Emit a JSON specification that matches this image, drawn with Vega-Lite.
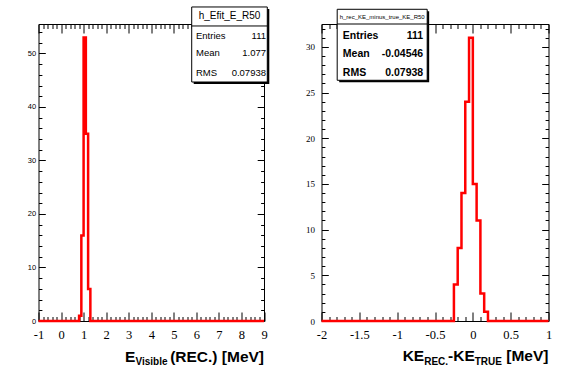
{
  "$schema": "https://vega.github.io/schema/vega-lite/v6.json",
  "background": "white",
  "padding": {"left": 26.5, "top": 5, "right": 5, "bottom": 5},
  "bounds": "flush",
  "spacing": 57,
  "config": {
    "view": {"stroke": "black", "strokeWidth": 1},
    "text": {"font": "Liberation Sans", "color": "black"}
  },
  "datasets": {
    "histL": [
      {"x": -1, "count": 0}, {"x": 0.8, "count": 1}, {"x": 0.9, "count": 16},
      {"x": 1.0, "count": 53}, {"x": 1.1, "count": 35}, {"x": 1.2, "count": 6},
      {"x": 1.3, "count": 0}, {"x": 9, "count": 0}
    ],
    "histR": [
      {"x": -2, "count": 0}, {"x": -0.25, "count": 4}, {"x": -0.2, "count": 8},
      {"x": -0.15, "count": 14}, {"x": -0.1, "count": 24}, {"x": -0.05, "count": 31},
      {"x": 0, "count": 15}, {"x": 0.05, "count": 11}, {"x": 0.1, "count": 3},
      {"x": 0.15, "count": 1}, {"x": 0.2, "count": 0}, {"x": 1, "count": 0}
    ],
    "statsL": [
      {"name": "Entries", "value": "111"},
      {"name": "Mean", "value": "1.077"},
      {"name": "RMS", "value": "0.07938"}
    ],
    "statsR": [
      {"name": "Entries", "value": "111"},
      {"name": "Mean", "value": "-0.04546"},
      {"name": "RMS", "value": "0.07938"}
    ]
  },
  "hconcat": [
    {
      "width": 225.5,
      "height": 297,
      "resolve": {"axis": {"x": "independent", "y": "independent"}},
      "layer": [
        {
          "data": {"name": "histL"},
          "mark": {"type": "line", "interpolate": "step-after", "color": "#ff0000", "strokeWidth": 2.5, "strokeJoin": "miter", "clip": false},
          "encoding": {
            "x": {"field": "x", "type": "quantitative", "scale": {"domain": [-1, 9], "nice": false, "zero": false},
              "axis": {"orient": "bottom", "title": null, "domain": false, "grid": false,
                "values": [-1,-0.8,-0.6,-0.4,-0.2,0,0.2,0.4,0.6,0.8,1,1.2,1.4,1.6,1.8,2,2.2,2.4,2.6,2.8,3,3.2,3.4,3.6,3.8,4,4.2,4.4,4.6,4.8,5,5.2,5.4,5.6,5.8,6,6.2,6.4,6.6,6.8,7,7.2,7.4,7.6,7.8,8,8.2,8.4,8.6,8.8,9],
                "tickColor": "black", "tickWidth": 1,
                "tickSize": {"condition": {"test": "abs(datum.value - round(datum.value)) < 0.001", "value": -9}, "value": -4.5},
                "labelExpr": "abs(datum.value - round(datum.value)) < 0.001 ? (datum.value < 0 ? '-' : '') + format(abs(datum.value), 'd') : ''",
                "labelFont": "Liberation Serif", "labelFontSize": 12.5, "labelColor": "black",
                "labelPadding": 16.5, "labelFlush": false, "labelOverlap": false}},
            "y": {"field": "count", "type": "quantitative", "scale": {"domain": [0, 55.5], "nice": false, "zero": false},
              "axis": {"orient": "left", "title": null, "domain": false, "grid": false,
                "values": [0,2,4,6,8,10,12,14,16,18,20,22,24,26,28,30,32,34,36,38,40,42,44,46,48,50,52,54],
                "tickColor": "black", "tickWidth": 1,
                "tickSize": {"condition": {"test": "datum.value % 10 === 0", "value": -6.8}, "value": -3.4},
                "labelExpr": "datum.value % 10 === 0 ? format(datum.value, 'd') : ''",
                "labelFont": "Liberation Sans", "labelFontSize": 7.5, "labelColor": "black",
                "labelPadding": 9.6, "labelFlush": false, "labelOverlap": false}}
          }
        },
        {
          "data": {"name": "histL"},
          "mark": {"type": "line", "interpolate": "step-after", "opacity": 0},
          "encoding": {
            "x": {"field": "x", "type": "quantitative", "scale": {"domain": [-1, 9], "nice": false, "zero": false},
              "axis": {"orient": "top", "title": null, "domain": false, "grid": false, "labels": false,
                "values": [-1,-0.8,-0.6,-0.4,-0.2,0,0.2,0.4,0.6,0.8,1,1.2,1.4,1.6,1.8,2,2.2,2.4,2.6,2.8,3,3.2,3.4,3.6,3.8,4,4.2,4.4,4.6,4.8,5,5.2,5.4,5.6,5.8,6,6.2,6.4,6.6,6.8,7,7.2,7.4,7.6,7.8,8,8.2,8.4,8.6,8.8,9],
                "tickColor": "black", "tickWidth": 1,
                "tickSize": {"condition": {"test": "abs(datum.value - round(datum.value)) < 0.001", "value": -9}, "value": -4.5}}},
            "y": {"field": "count", "type": "quantitative", "scale": {"domain": [0, 55.5], "nice": false, "zero": false},
              "axis": {"orient": "right", "title": null, "domain": false, "grid": false, "labels": false,
                "values": [0,2,4,6,8,10,12,14,16,18,20,22,24,26,28,30,32,34,36,38,40,42,44,46,48,50,52,54],
                "tickColor": "black", "tickWidth": 1,
                "tickSize": {"condition": {"test": "datum.value % 10 === 0", "value": -6.8}, "value": -3.4}}}
          }
        },
        {
          "data": {"values": [{}]},
          "mark": {"type": "rect", "color": "black", "clip": false},
          "encoding": {
            "x": {"datum": 5.883, "type": "quantitative", "axis": null},
            "x2": {"datum": 9.235},
            "y": {"datum": 58.31, "type": "quantitative", "axis": null},
            "y2": {"datum": 44.29}
          }
        },
        {
          "data": {"values": [{}]},
          "mark": {"type": "rect", "fill": "white", "stroke": "black", "strokeWidth": 1, "clip": false},
          "encoding": {
            "x": {"datum": 5.794, "type": "quantitative", "axis": null},
            "x2": {"datum": 9.146},
            "y": {"datum": 58.68, "type": "quantitative", "axis": null},
            "y2": {"datum": 44.66}
          }
        },
        {
          "data": {"values": [{}]},
          "mark": {"type": "rule", "color": "black", "strokeWidth": 1, "clip": false},
          "encoding": {
            "x": {"datum": 5.794, "type": "quantitative", "axis": null},
            "x2": {"datum": 9.146},
            "y": {"datum": 55.13, "type": "quantitative", "axis": null}
          }
        },
        {
          "data": {"values": [{}]},
          "mark": {"type": "text", "text": "h_Efit_E_R50", "align": "center", "baseline": "middle", "fontSize": 10, "clip": false},
          "encoding": {
            "x": {"datum": 7.47, "type": "quantitative", "axis": null},
            "y": {"datum": 56.91, "type": "quantitative", "axis": null}
          }
        },
        {
          "data": {"name": "statsL"},
          "transform": [{"filter": "datum.name === 'Entries'"}],
          "mark": {"type": "text", "align": "left", "baseline": "middle", "fontSize": 9.5, "clip": false},
          "encoding": {
            "x": {"datum": 5.984, "type": "quantitative", "axis": null},
            "y": {"datum": 53.26, "type": "quantitative", "axis": null},
            "text": {"field": "name"}
          }
        },
        {
          "data": {"name": "statsL"},
          "transform": [{"filter": "datum.name === 'Entries'"}],
          "mark": {"type": "text", "align": "right", "baseline": "middle", "fontSize": 9.5, "clip": false},
          "encoding": {
            "x": {"datum": 9.089, "type": "quantitative", "axis": null},
            "y": {"datum": 53.26, "type": "quantitative", "axis": null},
            "text": {"field": "value"}
          }
        },
        {
          "data": {"name": "statsL"},
          "transform": [{"filter": "datum.name === 'Mean'"}],
          "mark": {"type": "text", "align": "left", "baseline": "middle", "fontSize": 9.5, "clip": false},
          "encoding": {
            "x": {"datum": 5.984, "type": "quantitative", "axis": null},
            "y": {"datum": 49.99, "type": "quantitative", "axis": null},
            "text": {"field": "name"}
          }
        },
        {
          "data": {"name": "statsL"},
          "transform": [{"filter": "datum.name === 'Mean'"}],
          "mark": {"type": "text", "align": "right", "baseline": "middle", "fontSize": 9.5, "clip": false},
          "encoding": {
            "x": {"datum": 9.089, "type": "quantitative", "axis": null},
            "y": {"datum": 49.99, "type": "quantitative", "axis": null},
            "text": {"field": "value"}
          }
        },
        {
          "data": {"name": "statsL"},
          "transform": [{"filter": "datum.name === 'RMS'"}],
          "mark": {"type": "text", "align": "left", "baseline": "middle", "fontSize": 9.5, "clip": false},
          "encoding": {
            "x": {"datum": 5.984, "type": "quantitative", "axis": null},
            "y": {"datum": 46.35, "type": "quantitative", "axis": null},
            "text": {"field": "name"}
          }
        },
        {
          "data": {"name": "statsL"},
          "transform": [{"filter": "datum.name === 'RMS'"}],
          "mark": {"type": "text", "align": "right", "baseline": "middle", "fontSize": 9.5, "clip": false},
          "encoding": {
            "x": {"datum": 9.089, "type": "quantitative", "axis": null},
            "y": {"datum": 46.35, "type": "quantitative", "axis": null},
            "text": {"field": "value"}
          }
        },
        {
          "data": {"values": [{}]},
          "mark": {"type": "text", "text": "E", "align": "right", "baseline": "alphabetic", "fontSize": 15.5, "fontWeight": "bold", "clip": false},
          "encoding": {
            "x": {"datum": 3.293, "type": "quantitative", "axis": null},
            "y": {"datum": -7.57, "type": "quantitative", "axis": null}
          }
        },
        {
          "data": {"values": [{}]},
          "mark": {"type": "text", "text": "Visible", "align": "right", "baseline": "alphabetic", "fontSize": 10, "fontWeight": "bold", "clip": false},
          "encoding": {
            "x": {"datum": 4.721, "type": "quantitative", "axis": null},
            "y": {"datum": -8.22, "type": "quantitative", "axis": null}
          }
        },
        {
          "data": {"values": [{}]},
          "mark": {"type": "text", "text": "(REC.) [MeV]", "align": "right", "baseline": "alphabetic", "fontSize": 15.5, "fontWeight": "bold", "clip": false},
          "encoding": {
            "x": {"datum": 9, "type": "quantitative", "axis": null},
            "y": {"datum": -7.57, "type": "quantitative", "axis": null}
          }
        }
      ]
    },
    {
      "width": 227,
      "height": 297,
      "resolve": {"axis": {"x": "independent", "y": "independent"}},
      "layer": [
        {
          "data": {"name": "histR"},
          "mark": {"type": "line", "interpolate": "step-after", "color": "#ff0000", "strokeWidth": 2.5, "strokeJoin": "miter", "clip": false},
          "encoding": {
            "x": {"field": "x", "type": "quantitative", "scale": {"domain": [-2, 1], "nice": false, "zero": false},
              "axis": {"orient": "bottom", "title": null, "domain": false, "grid": false,
                "values": [-2,-1.9,-1.8,-1.7,-1.6,-1.5,-1.4,-1.3,-1.2,-1.1,-1,-0.9,-0.8,-0.7,-0.6,-0.5,-0.4,-0.3,-0.2,-0.1,0,0.1,0.2,0.3,0.4,0.5,0.6,0.7,0.8,0.9,1],
                "tickColor": "black", "tickWidth": 1,
                "tickSize": {"condition": {"test": "abs(datum.value*2 - round(datum.value*2)) < 0.001", "value": -9}, "value": -4.5},
                "labelExpr": "abs(datum.value*2 - round(datum.value*2)) < 0.001 ? (datum.value < -0.001 ? '-' : '') + format(abs(datum.value), '~g') : ''",
                "labelFont": "Liberation Serif", "labelFontSize": 12.5, "labelColor": "black",
                "labelPadding": 16.5, "labelFlush": false, "labelOverlap": false}},
            "y": {"field": "count", "type": "quantitative", "scale": {"domain": [0, 32.5], "nice": false, "zero": false},
              "axis": {"orient": "left", "title": null, "domain": false, "grid": false,
                "values": [0,1,2,3,4,5,6,7,8,9,10,11,12,13,14,15,16,17,18,19,20,21,22,23,24,25,26,27,28,29,30,31,32],
                "tickColor": "black", "tickWidth": 1,
                "tickSize": {"condition": {"test": "datum.value % 5 === 0", "value": -6.8}, "value": -3.4},
                "labelExpr": "datum.value % 5 === 0 ? format(datum.value, 'd') : ''",
                "labelFont": "Liberation Serif", "labelFontSize": 9, "labelColor": "black",
                "labelPadding": 13.8, "labelFlush": false, "labelOverlap": false}}
          }
        },
        {
          "data": {"name": "histR"},
          "mark": {"type": "line", "interpolate": "step-after", "opacity": 0},
          "encoding": {
            "x": {"field": "x", "type": "quantitative", "scale": {"domain": [-2, 1], "nice": false, "zero": false},
              "axis": {"orient": "top", "title": null, "domain": false, "grid": false, "labels": false,
                "values": [-2,-1.9,-1.8,-1.7,-1.6,-1.5,-1.4,-1.3,-1.2,-1.1,-1,-0.9,-0.8,-0.7,-0.6,-0.5,-0.4,-0.3,-0.2,-0.1,0,0.1,0.2,0.3,0.4,0.5,0.6,0.7,0.8,0.9,1],
                "tickColor": "black", "tickWidth": 1,
                "tickSize": {"condition": {"test": "abs(datum.value*2 - round(datum.value*2)) < 0.001", "value": -9}, "value": -4.5}}},
            "y": {"field": "count", "type": "quantitative", "scale": {"domain": [0, 32.5], "nice": false, "zero": false},
              "axis": {"orient": "right", "title": null, "domain": false, "grid": false, "labels": false,
                "values": [0,1,2,3,4,5,6,7,8,9,10,11,12,13,14,15,16,17,18,19,20,21,22,23,24,25,26,27,28,29,30,31,32],
                "tickColor": "black", "tickWidth": 1,
                "tickSize": {"condition": {"test": "datum.value % 5 === 0", "value": -6.8}, "value": -3.4}}}
          }
        },
        {
          "data": {"values": [{}]},
          "mark": {"type": "rect", "color": "black", "clip": false},
          "encoding": {
            "x": {"datum": -1.766, "type": "quantitative", "axis": null},
            "x2": {"datum": -0.577},
            "y": {"datum": 33.89, "type": "quantitative", "axis": null},
            "y2": {"datum": 26.12}
          }
        },
        {
          "data": {"values": [{}]},
          "mark": {"type": "rect", "fill": "white", "stroke": "black", "strokeWidth": 1, "clip": false},
          "encoding": {
            "x": {"datum": -1.7925, "type": "quantitative", "axis": null},
            "x2": {"datum": -0.6032},
            "y": {"datum": 34.11, "type": "quantitative", "axis": null},
            "y2": {"datum": 26.34}
          }
        },
        {
          "data": {"values": [{}]},
          "mark": {"type": "rule", "color": "black", "strokeWidth": 1, "clip": false},
          "encoding": {
            "x": {"datum": -1.7925, "type": "quantitative", "axis": null},
            "x2": {"datum": -0.6032},
            "y": {"datum": 32.5, "type": "quantitative", "axis": null}
          }
        },
        {
          "data": {"values": [{}]},
          "mark": {"type": "text", "text": "h_rec_KE_minus_true_KE_R50", "align": "center", "baseline": "middle", "fontSize": 6, "clip": false},
          "encoding": {
            "x": {"datum": -1.198, "type": "quantitative", "axis": null},
            "y": {"datum": 33.3, "type": "quantitative", "axis": null}
          }
        },
        {
          "data": {"name": "statsR"},
          "transform": [{"filter": "datum.name === 'Entries'"}],
          "mark": {"type": "text", "align": "left", "baseline": "middle", "fontSize": 10.5, "fontWeight": "bold", "clip": false},
          "encoding": {
            "x": {"datum": -1.7185, "type": "quantitative", "axis": null},
            "y": {"datum": 31.19, "type": "quantitative", "axis": null},
            "text": {"field": "name"}
          }
        },
        {
          "data": {"name": "statsR"},
          "transform": [{"filter": "datum.name === 'Entries'"}],
          "mark": {"type": "text", "align": "right", "baseline": "middle", "fontSize": 10.5, "fontWeight": "bold", "clip": false},
          "encoding": {
            "x": {"datum": -0.656, "type": "quantitative", "axis": null},
            "y": {"datum": 31.19, "type": "quantitative", "axis": null},
            "text": {"field": "value"}
          }
        },
        {
          "data": {"name": "statsR"},
          "transform": [{"filter": "datum.name === 'Mean'"}],
          "mark": {"type": "text", "align": "left", "baseline": "middle", "fontSize": 10.5, "fontWeight": "bold", "clip": false},
          "encoding": {
            "x": {"datum": -1.7185, "type": "quantitative", "axis": null},
            "y": {"datum": 29.19, "type": "quantitative", "axis": null},
            "text": {"field": "name"}
          }
        },
        {
          "data": {"name": "statsR"},
          "transform": [{"filter": "datum.name === 'Mean'"}],
          "mark": {"type": "text", "align": "right", "baseline": "middle", "fontSize": 10.5, "fontWeight": "bold", "clip": false},
          "encoding": {
            "x": {"datum": -0.656, "type": "quantitative", "axis": null},
            "y": {"datum": 29.19, "type": "quantitative", "axis": null},
            "text": {"field": "value"}
          }
        },
        {
          "data": {"name": "statsR"},
          "transform": [{"filter": "datum.name === 'RMS'"}],
          "mark": {"type": "text", "align": "left", "baseline": "middle", "fontSize": 10.5, "fontWeight": "bold", "clip": false},
          "encoding": {
            "x": {"datum": -1.7185, "type": "quantitative", "axis": null},
            "y": {"datum": 27.17, "type": "quantitative", "axis": null},
            "text": {"field": "name"}
          }
        },
        {
          "data": {"name": "statsR"},
          "transform": [{"filter": "datum.name === 'RMS'"}],
          "mark": {"type": "text", "align": "right", "baseline": "middle", "fontSize": 10.5, "fontWeight": "bold", "clip": false},
          "encoding": {
            "x": {"datum": -0.656, "type": "quantitative", "axis": null},
            "y": {"datum": 27.17, "type": "quantitative", "axis": null},
            "text": {"field": "value"}
          }
        },
        {
          "data": {"values": [{}]},
          "mark": {"type": "text", "text": "KE", "align": "right", "baseline": "alphabetic", "fontSize": 15.5, "fontWeight": "bold", "clip": false},
          "encoding": {
            "x": {"datum": -0.643, "type": "quantitative", "axis": null},
            "y": {"datum": -4.43, "type": "quantitative", "axis": null}
          }
        },
        {
          "data": {"values": [{}]},
          "mark": {"type": "text", "text": "REC.", "align": "right", "baseline": "alphabetic", "fontSize": 10, "fontWeight": "bold", "clip": false},
          "encoding": {
            "x": {"datum": -0.327, "type": "quantitative", "axis": null},
            "y": {"datum": -4.81, "type": "quantitative", "axis": null}
          }
        },
        {
          "data": {"values": [{}]},
          "mark": {"type": "text", "text": "-KE", "align": "right", "baseline": "alphabetic", "fontSize": 15.5, "fontWeight": "bold", "clip": false},
          "encoding": {
            "x": {"datum": 0.026, "type": "quantitative", "axis": null},
            "y": {"datum": -4.43, "type": "quantitative", "axis": null}
          }
        },
        {
          "data": {"values": [{}]},
          "mark": {"type": "text", "text": "TRUE", "align": "right", "baseline": "alphabetic", "fontSize": 10, "fontWeight": "bold", "clip": false},
          "encoding": {
            "x": {"datum": 0.385, "type": "quantitative", "axis": null},
            "y": {"datum": -4.81, "type": "quantitative", "axis": null}
          }
        },
        {
          "data": {"values": [{}]},
          "mark": {"type": "text", "text": "[MeV]", "align": "right", "baseline": "alphabetic", "fontSize": 15.5, "fontWeight": "bold", "clip": false},
          "encoding": {
            "x": {"datum": 1, "type": "quantitative", "axis": null},
            "y": {"datum": -4.43, "type": "quantitative", "axis": null}
          }
        }
      ]
    }
  ]
}
